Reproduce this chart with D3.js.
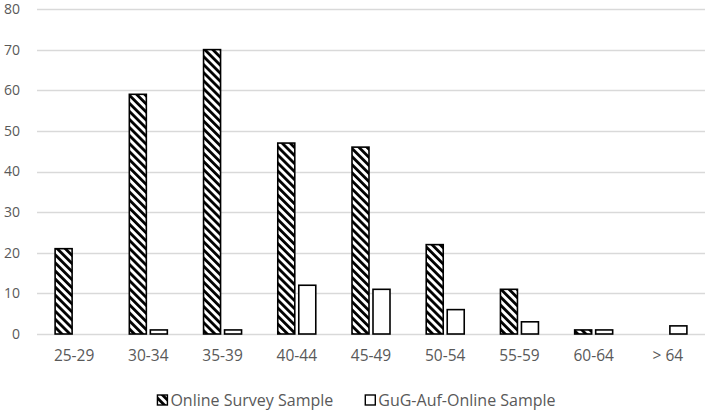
<!DOCTYPE html>
<html>
<head>
<meta charset="utf-8">
<script src="https://cdn.jsdelivr.net/npm/d3@7"></script>
<style>
  body { margin: 0; background: #fff; }
  svg { display: block; font-family: "Open Sans", "Noto Sans", sans-serif; }
</style>
</head>
<body>
<div id="chart"></div>
<script>
// age groups and counts
var categories = ['25-29', '30-34', '35-39', '40-44', '45-49', '50-54', '55-59', '60-64', '> 64'];
var onlineSurvey = [21, 59, 70, 47, 46, 22, 11, 1, 0];
var gugAufOnline = [0, 1, 1, 12, 11, 6, 3, 1, 2];
var seriesNames = ['Online Survey Sample', 'GuG-Auf-Online Sample'];
var yTicks = [0, 10, 20, 30, 40, 50, 60, 70, 80];

var width = 709, height = 411;
var margin = {top: 9, right: 4, bottom: 77, left: 37};

var svg = d3.select('#chart').append('svg')
  .attr('width', width)
  .attr('height', height);

// diagonal hatch, top-left to bottom-right
var defs = svg.append('defs');
var pw = 5.7;
var pat = defs.append('pattern')
  .attr('id', 'hatch')
  .attr('patternUnits', 'userSpaceOnUse')
  .attr('width', pw)
  .attr('height', pw)
  .attr('patternTransform', 'rotate(-45)');
pat.append('rect').attr('width', pw).attr('height', pw).attr('fill', '#fff');
pat.append('rect').attr('x', 0).attr('width', 2.8).attr('height', pw).attr('fill', '#000');

var x = d3.scaleBand()
  .domain(categories)
  .range([margin.left, width - margin.right]);

var y = d3.scaleLinear()
  .domain([0, 80])
  .range([height - margin.bottom, margin.top]);

// gridlines
svg.append('g')
  .selectAll('line')
  .data(yTicks)
  .enter().append('line')
  .attr('x1', margin.left)
  .attr('x2', width - margin.right)
  .attr('y1', function (d) { return Math.round(y(d)) + 0.5; })
  .attr('y2', function (d) { return Math.round(y(d)) + 0.5; })
  .attr('stroke', '#d9d9d9')
  .attr('stroke-width', 1.3);

// y axis labels
var yAxis = svg.append('g')
  .attr('transform', 'translate(' + (margin.left - 17) + ',0)')
  .call(d3.axisLeft(y).tickValues(yTicks).tickSize(0).tickPadding(0));
yAxis.select('.domain').remove();
yAxis.selectAll('text')
  .attr('fill', '#595959')
  .style('font-size', '14px')
  .style('font-family', '"Open Sans", sans-serif');

// x axis labels
var xAxis = svg.append('g')
  .attr('transform', 'translate(0,' + (height - margin.bottom) + ')')
  .call(d3.axisBottom(x).tickSize(0).tickPadding(16));
xAxis.select('.domain').remove();
xAxis.selectAll('text')
  .attr('fill', '#595959')
  .style('font-size', '15.5px')
  .style('font-family', '"Open Sans", sans-serif');

var barW = 17, gap = 4;
var series = [
  {name: seriesNames[0], values: onlineSurvey, fill: 'url(#hatch)', off: -(barW + gap / 2)},
  {name: seriesNames[1], values: gugAufOnline, fill: '#fff', off: gap / 2}
];

series.forEach(function (s) {
  svg.append('g')
    .selectAll('rect')
    .data(categories.map(function (c, i) { return {c: c, v: s.values[i]}; })
      .filter(function (d) { return d.v > 0; }))
    .enter().append('rect')
    .attr('x', function (d) { return x(d.c) + x.bandwidth() / 2 + s.off; })
    .attr('y', function (d) { return y(d.v); })
    .attr('width', barW)
    .attr('height', function (d) { return y(0) - y(d.v); })
    .attr('fill', s.fill)
    .attr('stroke', '#000')
    .attr('stroke-width', 1.6);
});

// legend, centred under the plot
var legend = svg.append('g').attr('transform', 'translate(0,400)');
var items = [];
series.forEach(function (s) {
  var g = legend.append('g');
  g.append('rect')
    .attr('x', 0).attr('y', -5)
    .attr('width', 10).attr('height', 10)
    .attr('fill', s.fill)
    .attr('stroke', '#000')
    .attr('stroke-width', 1.4);
  g.append('text')
    .attr('x', 13).attr('y', 0)
    .attr('dy', '0.35em')
    .attr('fill', '#595959')
    .style('font-size', '16px')
    .text(s.name);
  items.push(g);
});
var w0 = items[0].node().getBBox().width;
var w1 = items[1].node().getBBox().width;
var legGap = 32;
var legStart = (width - (w0 + legGap + w1)) / 2 + 2;
items[0].attr('transform', 'translate(' + legStart + ',0)');
items[1].attr('transform', 'translate(' + (legStart + w0 + legGap) + ',0)');
</script>
</body>
</html>
